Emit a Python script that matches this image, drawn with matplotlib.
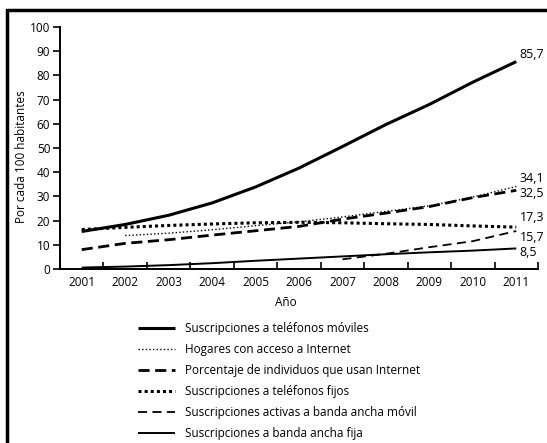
import matplotlib
matplotlib.use("Agg")
import matplotlib.pyplot as plt
from matplotlib.patches import Rectangle
import numpy as np

plt.rcParams['font.family'] = ['Open Sans', 'DejaVu Sans']

years = ['2001', '2002', '2003', '2004', '2005', '2006', '2007', '2008', '2009', '2010', '2011']
moviles = [15.5, 18.4, 22.2, 27.3, 33.9, 41.7, 50.6, 59.7, 68.0, 77.2, 85.7]
hogares = [np.nan, 13.8, 14.8, 16.2, 17.9, 19.5, 21.5, 23.8, 26.1, 29.7, 34.1]
individuos = [8.0, 10.6, 12.1, 14.0, 15.8, 17.6, 20.6, 23.1, 25.8, 29.5, 32.5]
fijos = [16.3, 17.2, 18.0, 18.6, 19.1, 19.3, 19.1, 18.7, 18.4, 17.8, 17.3]
banda_movil = [np.nan]*6 + [4.0, 6.3, 9.0, 11.5, 15.7]
banda_fija = [0.6, 1.0, 1.6, 2.4, 3.4, 4.3, 5.2, 6.1, 6.9, 7.6, 8.5]

nombres = ['Suscripciones a teléfonos móviles',
           'Hogares con acceso a Internet',
           'Porcentaje de individuos que usan Internet',
           'Suscripciones a teléfonos fijos',
           'Suscripciones activas a banda ancha móvil',
           'Suscripciones a banda ancha fija']
etiquetas = ['85,7', '34,1', '32,5', '17,3', '15,7', '8,5']
etiqueta_y = [88.5, 37.6, 31.4, 21.1, 13.2, 7.0]

W, H = 547, 443
fig = plt.figure(figsize=(W/100, H/100), dpi=100)
ax = fig.add_axes([60/W, 1-269/H, (538-60)/W, (269-27)/H])

x = np.arange(len(years))
series = [moviles, hogares, individuos, fijos, banda_movil, banda_fija]
estilos = [
    dict(lw=2.2, ls='-'),
    dict(lw=1.0, ls=(0, (1, 1.6))),
    dict(lw=2.0, ls=(0, (4, 2))),
    dict(lw=2.2, ls=(0, (1, 1))),
    dict(lw=1.3, ls=(0, (5, 3))),
    dict(lw=1.4, ls='-'),
]
for s, est, nom in zip(series, estilos, nombres):
    ax.plot(x, s, color='black', label=nom, solid_capstyle='butt', **est)

for t, yy in zip(etiquetas, etiqueta_y):
    ax.text(10.08, yy, t, fontsize=9, ha='left', va='center', clip_on=False)

ax.set_xlim(-0.5, 10.5)
ax.set_ylim(0, 100)
ax.set_yticks(np.arange(0, 101, 10))
ax.tick_params(axis='y', direction='out', length=5, width=1.2, labelsize=8.5, pad=2)
ax.set_xticks(np.arange(-0.5, 11, 1))
ax.set_xticklabels([])
ax.tick_params(axis='x', which='major', direction='in', length=5, width=1.2)
ax.set_xticks(x, minor=True)
ax.set_xticklabels(years, minor=True)
ax.tick_params(axis='x', which='minor', length=0, labelsize=8.5, pad=5)

for sp in ['top', 'right']:
    ax.spines[sp].set_visible(False)
for sp in ['left', 'bottom']:
    ax.spines[sp].set_linewidth(1.4)

fig.text(286/W, 1-303/H, 'Año', fontsize=8.5, ha='center', va='center')
fig.text(22/W, 1-157/H, 'Por cada 100 habitantes', fontsize=8.5, ha='center', va='center', rotation=90)

ax.legend(loc='upper left', bbox_to_anchor=(138/W, 1-322/H), bbox_transform=fig.transFigure,
          frameon=False, fontsize=8.5, handlelength=3.1, handletextpad=0.85,
          labelspacing=0.68, borderaxespad=0, borderpad=0)

fig.patches.append(Rectangle((7/W, -0.1), 1.1, 1.1-10/H, transform=fig.transFigure,
                             fill=False, lw=2.5, edgecolor='black'))

fig.savefig('out.png', dpi=100)
